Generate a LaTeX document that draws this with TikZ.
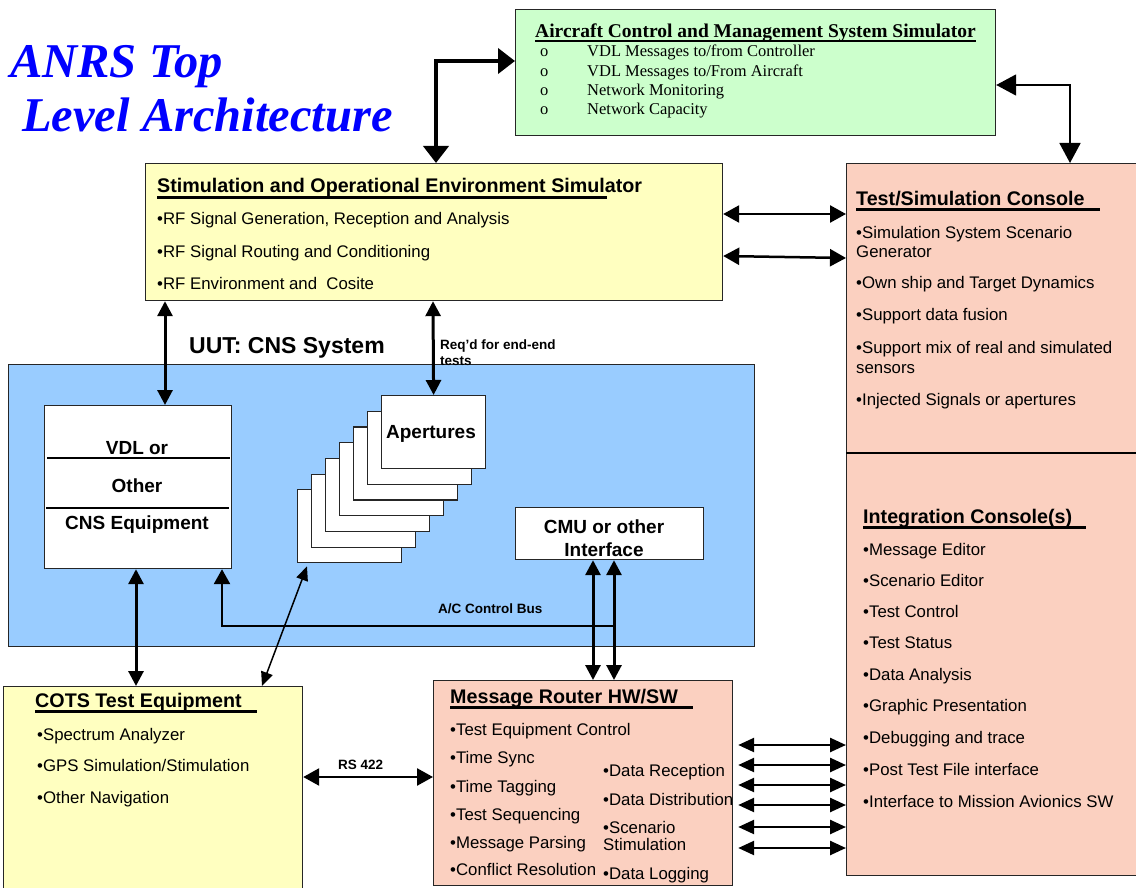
\documentclass[tikz,border=0pt]{standalone}
\usepackage{fontspec}
\setmainfont{Liberation Sans}
\newfontfamily\serifface{Liberation Serif}
\usepackage{xcolor}
\definecolor{cSim}{HTML}{FFFFC0}
\definecolor{cAcms}{HTML}{CCFFCC}
\definecolor{cUut}{HTML}{99CCFF}
\definecolor{cCons}{HTML}{FBD0C0}
\definecolor{cTitle}{HTML}{0000FF}
\definecolor{cLine}{HTML}{262626}
\usepackage{tikz}
\usetikzlibrary{positioning,arrows.meta,calc}
\tikzset{
  node-panel/.style={draw=cLine,line width=1.2pt,anchor=north west,inner sep=0pt},
  node-white/.style={node-panel,fill=white},
  page-title/.style={anchor=base west,inner sep=0pt,text=cTitle,
    font=\serifface\bfseries\itshape\fontsize{48.5}{52}\selectfont},
  node-head/.style={anchor=base west,inner sep=0pt,font=\bfseries\fontsize{19.7}{22}\selectfont},
  node-item/.style={anchor=base west,inner sep=0pt,font=\fontsize{16.8}{19}\selectfont},
  acms-head/.style={anchor=base west,inner sep=0pt,font=\serifface\bfseries\fontsize{19.5}{22}\selectfont},
  acms-item/.style={anchor=base west,inner sep=0pt,font=\serifface\fontsize{16.5}{19}\selectfont},
  node-lbl/.style={anchor=base,inner sep=0pt,font=\bfseries\fontsize{19}{22}\selectfont},
  node-tag/.style={anchor=base west,inner sep=0pt,font=\bfseries\fontsize{13.5}{16}\selectfont},
  head-rule/.style={line width=3pt},
  % double headed links, heavier ones on the top of the sheet
  arrow-heavy/.style={{Triangle[length=17pt,width=25pt]}-{Triangle[length=17pt,width=25pt]},line width=4pt},
  arrow-link/.style={{Triangle[length=20pt,width=21pt]}-{Triangle[length=20pt,width=21pt]},line width=1.8pt},
  arrow-mid/.style={{Triangle[length=16pt,width=17pt]}-{Triangle[length=16pt,width=17pt]},line width=2.5pt},
  arrow-dbl/.style={{Triangle[length=15pt,width=15pt]}-{Triangle[length=15pt,width=15pt]},line width=3pt},
  arrow-thin/.style={{Triangle[length=14pt,width=12pt]}-{Triangle[length=14pt,width=12pt]},line width=1.5pt},
  arrow-bus/.style={-{Triangle[length=15pt,width=16pt]},line width=2.5pt},
  arrow-port/.style={{Triangle[length=16pt,width=14pt]}-{Triangle[length=16pt,width=14pt]},line width=2.5pt},
}

\begin{document}
\begin{tikzpicture}[x=1pt,y=-1pt]
  \useasboundingbox (0,0) rectangle (1136,888);
  \node[page-title] (ttl-a) at (10,78) {ANRS Top};
  \node[page-title] (ttl-b) at (22,132) {Level Architecture};

  \node[node-panel,fill=cAcms,minimum width=480pt,minimum height=126pt] (acms) at (515,9) {};
  \node[acms-head] (acms-t) at (535,38) {Aircraft Control and Management System Simulator};
  \draw[line width=1.3pt] ([yshift=-3pt]acms-t.base west) -- ([yshift=-3pt]acms-t.base east);
  \foreach \yy/\txt [count=\i] in {57/{VDL Messages to/from Controller},77/{VDL Messages to/From Aircraft},
      96/{Network Monitoring},115/{Network Capacity}}{
    \node[acms-item] (acms-o\i) at (540,\yy) {o};
    \node[acms-item] (acms-i\i) at (587,\yy) {\txt};
  }

  \node[node-panel,fill=cSim,minimum width=577pt,minimum height=137pt] (stim) at (145,163) {};
  \node[node-head] (stim-t) at (157,193) {Stimulation and Operational Environment Simulator};
  \draw[head-rule] ([yshift=-4.5pt]stim-t.base west) -- +(450,0);
  \node[node-item] (stim-1) at (157,224) {•RF Signal Generation, Reception and Analysis};
  \node[node-item] (stim-2) at (157,257) {•RF Signal Routing and Conditioning};
  \node[node-item] (stim-3) at (157,289) {•RF Environment and\ \ Cosite};

  \node[node-panel,fill=cCons,minimum width=294pt,minimum height=712pt] (cons) at (846,163) {};
  \draw[line width=2.5pt] ([yshift=-290pt]cons.north west) -- ([yshift=-290pt]cons.north east);
  \node[node-head] (cons-t) at (856,205) {Test/Simulation Console};
  \draw[head-rule] ([yshift=-4.5pt]cons-t.base west) -- +(244,0);
  \foreach \yy/\txt [count=\i] in {238/•Simulation System Scenario,257/Generator,
      288/•Own ship and Target Dynamics,320/•Support data fusion,
      353/•Support mix of real and simulated,373/sensors,405/•Injected Signals or apertures}
    \node[node-item] (cons-\i) at (856,\yy) {\txt};

  \node[node-head] (intg-t) at (863,523) {Integration Console(s)};
  \draw[head-rule] ([yshift=-4.5pt]intg-t.base west) -- +(223,0);
  \foreach \yy/\txt [count=\i] in {555/•Message Editor,586/•Scenario Editor,617/•Test Control,
      648/•Test Status,680/•Data Analysis,711/•Graphic Presentation,743/•Debugging and trace,
      775/•Post Test File interface,807/•Interface to Mission Avionics SW}
    \node[node-item] (intg-\i) at (863,\yy) {\txt};

  \node[node-panel,fill=cUut,minimum width=746pt,minimum height=282pt] (uut) at (8,364) {};
  \node[anchor=base west,inner sep=0pt,font=\bfseries\fontsize{23}{26}\selectfont] (uut-t) at (189,353) {UUT: CNS System};
  \node[node-tag] (req-a) at (440,349) {Req’d for end-end};
  \node[node-tag] (req-b) at (440,365) {tests};

  \node[node-white,minimum width=187pt,minimum height=163pt] (vdl) at (44,405) {};
  \draw[line width=1.2pt] ([shift={(3pt,-53pt)}]vdl.north west) -- ([shift={(-2pt,-53pt)}]vdl.north east);
  \draw[line width=1.2pt] ([shift={(2pt,-103pt)}]vdl.north west) -- ([shift={(-3pt,-103pt)}]vdl.north east);
  \node[node-lbl] (vdl-a) at (137,454) {VDL or};
  \node[node-lbl] (vdl-b) at (137,492) {Other};
  \node[node-lbl] (vdl-c) at (137,529) {CNS Equipment};

  \foreach \k in {6,5,...,0}
    \node[node-white,minimum width=104pt,minimum height=73pt] (ap\k) at ({381-14*\k},{395+15.7*\k}) {};
  \node[node-lbl] (ap-t) at (431,438) {Apertures};

  \node[node-white,minimum width=188pt,minimum height=52pt] (cmu) at (515,507) {};
  \node[node-lbl] (cmu-a) at (604,533) {CMU or other};
  \node[node-lbl] (cmu-b) at (604,556) {Interface};

  \node[node-panel,fill=cSim,minimum width=299pt,minimum height=210pt] (cots) at (3,686) {};
  \node[node-head] (cots-t) at (35,707) {COTS Test Equipment};
  \draw[head-rule] ([yshift=-4.5pt]cots-t.base west) -- +(222,0);
  \node[node-item] (cots-1) at (37,740) {•Spectrum Analyzer};
  \node[node-item] (cots-2) at (37,771) {•GPS Simulation/Stimulation};
  \node[node-item] (cots-3) at (37,803) {•Other Navigation};

  \node[node-panel,fill=cCons,minimum width=299pt,minimum height=205pt] (rtr) at (433,680) {};
  \node[node-head] (rtr-t) at (450,703) {Message Router HW/SW};
  \draw[head-rule] ([yshift=-4.5pt]rtr-t.base west) -- +(243,0);
  \foreach \yy/\txt [count=\i] in {735/•Test Equipment Control,763/•Time Sync,792/•Time Tagging,
      820/•Test Sequencing,848/•Message Parsing,875/•Conflict Resolution}
    \node[node-item] (rtr-l\i) at (450,\yy) {\txt};
  \foreach \yy/\txt [count=\i] in {776/•Data Reception,805/•Data Distribution,833/•Scenario,
      850/Stimulation,879/•Data Logging}
    \node[node-item] (rtr-r\i) at (603,\yy) {\txt};

  \draw[arrow-heavy] ([xshift=291pt]stim.north west) |- ([yshift=-52pt]acms.north west);
  \draw[arrow-link] ([yshift=-76pt]acms.north east) -| ([xshift=224pt]cons.north west);
  \draw[arrow-mid] ([yshift=-51pt]stim.north east) -- ([yshift=-51pt]cons.north west);
  \draw[arrow-mid] ([yshift=-93pt]stim.north east) -- ([yshift=-95pt]cons.north west);
  \draw[arrow-dbl] ([xshift=20pt]stim.south west) -- ([xshift=121pt]vdl.north west);
  \draw[arrow-dbl] ([xshift=288pt]stim.south west) -- (ap0.north);
  \draw[arrow-dbl] ([xshift=92pt]vdl.south west) -- ([xshift=133pt]cots.north west);
  \draw[arrow-thin] ([shift={(10pt,-3pt)}]ap6.south west) -- ([xshift=259pt]cots.north west);
  \draw[arrow-dbl] ([xshift=78pt]cmu.south west) -- ([xshift=160pt]rtr.north west);
  \draw[arrow-dbl] ([xshift=99pt]cmu.south west) -- ([xshift=181pt]rtr.north west);
  \draw[arrow-bus] ([shift={(99pt,-66pt)}]cmu.south west) -| ([xshift=178pt]vdl.south west);
  \node[node-tag] (bus-t) at (438,613) {A/C Control Bus};
  \draw[arrow-mid] ([yshift=-91pt]cots.north east) -- ([yshift=-97pt]rtr.north west);
  \node[node-tag] (rs-t) at (338,769) {RS 422};
  \foreach \dy/\dz in {65/582,85/602,105/622,125/642,147/664,168/685}
    \draw[arrow-port] ([shift={(5,\dy)}]rtr.north east) -- ([shift={(0,\dz)}]cons.north west);
\end{tikzpicture}
\end{document}
